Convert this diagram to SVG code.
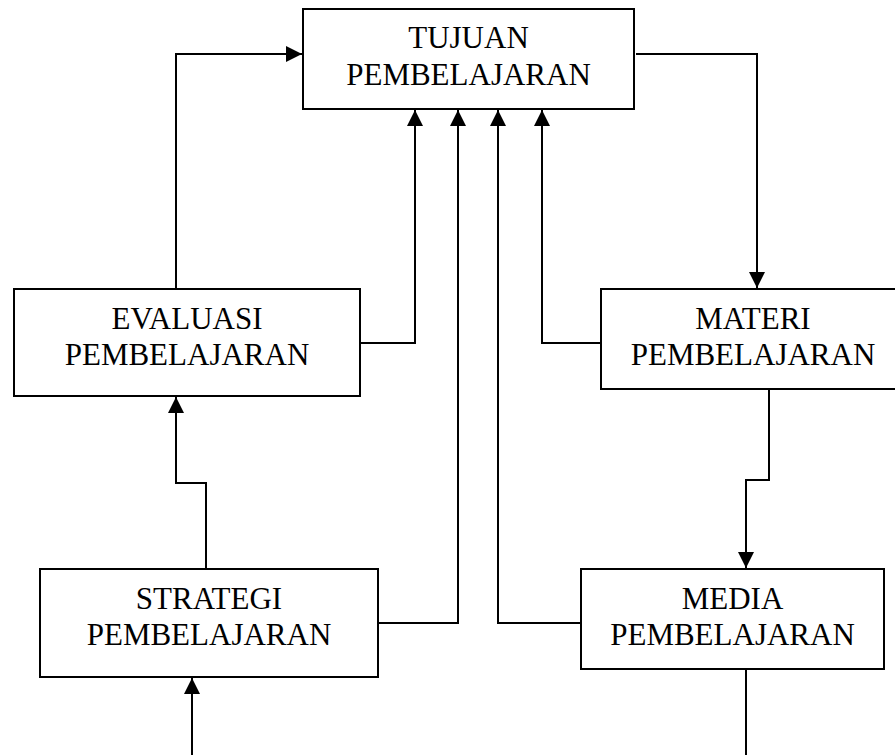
<svg xmlns="http://www.w3.org/2000/svg" width="895" height="755" viewBox="0 0 895 755">
<style>
.box{fill:#fff;stroke:#000;stroke-width:2}
.lbl{font-family:"Liberation Serif","Times New Roman",serif;font-size:31px;fill:#000;text-anchor:middle}
.con{fill:none;stroke:#000;stroke-width:2}
</style>
<defs>
<marker id="ah" viewBox="0 0 16 16" refX="16" refY="8" markerWidth="16" markerHeight="16" markerUnits="userSpaceOnUse" orient="auto">
<path d="M0,0 L16,8 L0,16 Z" fill="#000"/>
</marker>
</defs>
<rect width="895" height="755" fill="#fff"/>
<g id="connectors">
<path class="con" d="M176,289 V54 H302" marker-end="url(#ah)"/>
<path class="con" d="M360,343 H415 V110" marker-end="url(#ah)"/>
<path class="con" d="M378,623 H458 V110" marker-end="url(#ah)"/>
<path class="con" d="M581,623 H498 V110" marker-end="url(#ah)"/>
<path class="con" d="M601,343 H542 V110" marker-end="url(#ah)"/>
<path class="con" d="M636,54 H757 V288" marker-end="url(#ah)"/>
<path class="con" d="M769,390 V480 H746 V568" marker-end="url(#ah)"/>
<path class="con" d="M206,569 V483 H176 V397" marker-end="url(#ah)"/>
<path class="con" d="M192,755 V678" marker-end="url(#ah)"/>
<path class="con" d="M746,669 V755"/>
</g>
<g id="tujuan">
<rect class="box" x="303" y="9" width="331" height="100"/>
<text class="lbl" x="468.5" y="48">TUJUAN</text>
<text class="lbl" x="468.5" y="85">PEMBELAJARAN</text>
</g>
<g id="evaluasi">
<rect class="box" x="14" y="289" width="346" height="107"/>
<text class="lbl" x="187" y="329">EVALUASI</text>
<text class="lbl" x="187" y="365">PEMBELAJARAN</text>
</g>
<g id="materi">
<rect class="box" x="601" y="289" width="305" height="100"/>
<text class="lbl" x="753" y="329">MATERI</text>
<text class="lbl" x="753" y="365">PEMBELAJARAN</text>
</g>
<g id="strategi">
<rect class="box" x="40" y="569" width="338" height="108"/>
<text class="lbl" x="209" y="609">STRATEGI</text>
<text class="lbl" x="209" y="645">PEMBELAJARAN</text>
</g>
<g id="media">
<rect class="box" x="581" y="569" width="303" height="100"/>
<text class="lbl" x="732.5" y="609">MEDIA</text>
<text class="lbl" x="732.5" y="645">PEMBELAJARAN</text>
</g>
</svg>
